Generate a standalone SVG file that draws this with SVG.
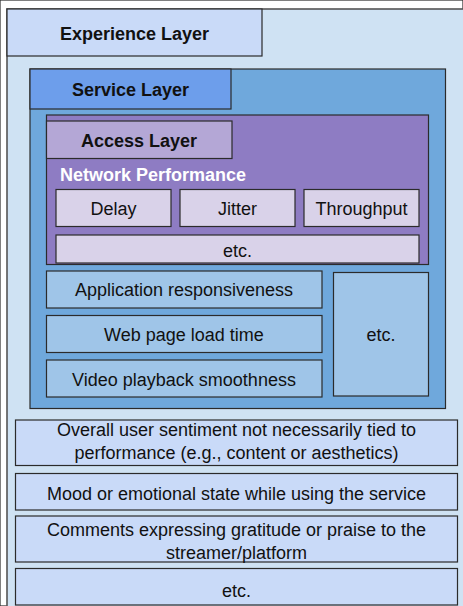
<svg xmlns="http://www.w3.org/2000/svg" width="463" height="606" viewBox="0 0 463 606">
<style>
rect{stroke:#2b2b2b;stroke-width:1.2}
text{font-family:"Liberation Sans",Arial,sans-serif;font-size:18px;fill:#111;text-anchor:middle}
.h{font-weight:bold}
.exp{fill:#cfe2f3}
.exph{fill:#c9daf8}
.svc{fill:#6fa8dc}
.svch{fill:#6d9eeb}
.acc{fill:#8e7cc3}
.acch{fill:#b4a7d6}
.np{fill:#d9d2e9}
.si{fill:#9fc5e8}
.ei{fill:#c9daf8}
</style>
<rect width="463" height="606" fill="#ffffff" stroke="none"/>
<g id="experience-layer">
<rect class="exp" x="7" y="9" width="470" height="620" style="stroke:#555;stroke-width:1.6"/>
<rect class="exph" x="7" y="9" width="255" height="47"/>
<text class="h" x="134.5" y="40">Experience Layer</text>
</g>
<g id="service-layer">
<rect class="svc" x="30" y="69" width="415.5" height="339.5"/>
<rect class="svch" x="30" y="69" width="201" height="40"/>
<text class="h" x="130.5" y="96">Service Layer</text>
</g>
<g id="access-layer">
<rect class="acc" x="46.5" y="115" width="382" height="149.5"/>
<rect class="acch" x="46.5" y="121" width="185.5" height="37.5"/>
<text class="h" x="139" y="147">Access Layer</text>
<text class="h" x="60" y="181" style="fill:#ffffff;text-anchor:start">Network Performance</text>
</g>
<g id="delay">
<rect class="np" x="56" y="189.5" width="115" height="37"/>
<text x="113.5" y="215">Delay</text>
</g>
<g id="jitter">
<rect class="np" x="180" y="189.5" width="115" height="37"/>
<text x="237.5" y="215">Jitter</text>
</g>
<g id="throughput">
<rect class="np" x="304" y="189.5" width="115" height="37"/>
<text x="361.5" y="215">Throughput</text>
</g>
<g id="network-etc">
<rect class="np" x="56" y="235" width="363" height="28"/>
<text x="237.5" y="256.5">etc.</text>
</g>
<g id="app-responsiveness">
<rect class="si" x="46.5" y="271" width="275.5" height="37"/>
<text x="184" y="296">Application responsiveness</text>
</g>
<g id="web-page-load">
<rect class="si" x="46.5" y="315.5" width="275.5" height="37"/>
<text x="184" y="341">Web page load time</text>
</g>
<g id="video-playback">
<rect class="si" x="46.5" y="360" width="275.5" height="37"/>
<text x="184" y="386">Video playback smoothness</text>
</g>
<g id="service-etc">
<rect class="si" x="333.5" y="272.5" width="95" height="123.5"/>
<text x="381" y="341">etc.</text>
</g>
<g id="overall-sentiment">
<rect class="ei" x="15.5" y="420" width="442" height="45.5"/>
<text x="236.5" y="436">Overall user sentiment not necessarily tied to</text>
<text x="236.5" y="458.5">performance (e.g., content or aesthetics)</text>
</g>
<g id="mood">
<rect class="ei" x="15.5" y="473.5" width="442" height="36.5"/>
<text x="236.5" y="499.5">Mood or emotional state while using the service</text>
</g>
<g id="comments">
<rect class="ei" x="15.5" y="516" width="442" height="46"/>
<text x="236.5" y="536">Comments expressing gratitude or praise to the</text>
<text x="236.5" y="558.5">streamer/platform</text>
</g>
<g id="experience-etc">
<rect class="ei" x="15.5" y="568.5" width="442" height="36.5"/>
<text x="236.5" y="596.5">etc.</text>
</g>
<g id="connectors"></g>
</svg>
